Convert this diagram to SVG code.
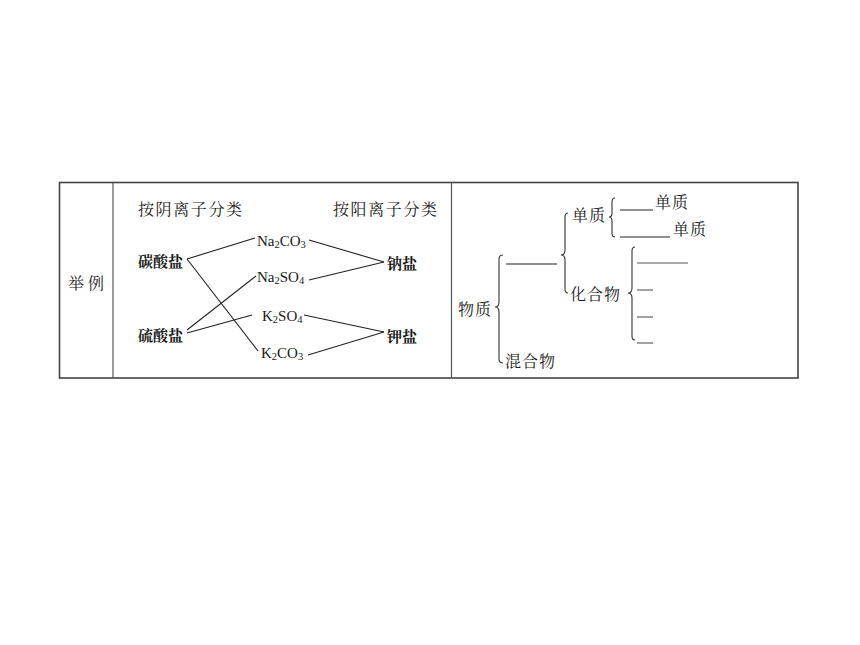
<svg xmlns="http://www.w3.org/2000/svg" width="860" height="645" viewBox="0 0 860 645">
<style>
.cn{font-family:"Noto Serif CJK SC","Noto Sans CJK SC",sans-serif;font-size:15px;fill:#1a1a1a;dominant-baseline:central}
.b{font-weight:bold}
.f{font-family:"Liberation Serif",serif;font-size:15px;fill:#1a1a1a;dominant-baseline:central}
.ln{stroke:#222;stroke-width:1.1;fill:none}
.br{stroke:#333;stroke-width:1.1;fill:none}
.gl{stroke:#555;stroke-width:1.1;fill:none}
</style>
<rect width="860" height="645" fill="#fff"/>
<g id="table">
<rect x="59.5" y="182.5" width="738.5" height="195.5" fill="none" stroke="#444" stroke-width="1.6"/>
<line x1="113" y1="182.5" x2="113" y2="378" stroke="#555" stroke-width="1.2"/>
<line x1="451.5" y1="182.5" x2="451.5" y2="378" stroke="#555" stroke-width="1.2"/>
</g>
<g id="label-juli"><text class="cn" x="68" y="282" style="font-size:16px;letter-spacing:4px">举例</text></g>
<g id="head-anion"><text class="cn" x="138" y="208" style="font-size:16px;letter-spacing:1.6px">按阴离子分类</text></g>
<g id="head-cation"><text class="cn" x="333" y="208" style="font-size:16px;letter-spacing:1.6px">按阳离子分类</text></g>
<g id="n-tansuanyan"><text class="cn b" x="138" y="260">碳酸盐</text></g>
<g id="n-liusuanyan"><text class="cn b" x="138" y="334">硫酸盐</text></g>
<g id="n-na2co3"><text class="f" x="257" y="241">Na<tspan font-size="10.5" dy="3">2</tspan><tspan dy="-3">CO</tspan><tspan font-size="10.5" dy="3">3</tspan></text></g>
<g id="n-na2so4"><text class="f" x="257" y="277">Na<tspan font-size="10.5" dy="3">2</tspan><tspan dy="-3">SO</tspan><tspan font-size="10.5" dy="3">4</tspan></text></g>
<g id="n-k2so4"><text class="f" x="262" y="316">K<tspan font-size="10.5" dy="3">2</tspan><tspan dy="-3">SO</tspan><tspan font-size="10.5" dy="3">4</tspan></text></g>
<g id="n-k2co3"><text class="f" x="261" y="353">K<tspan font-size="10.5" dy="3">2</tspan><tspan dy="-3">CO</tspan><tspan font-size="10.5" dy="3">3</tspan></text></g>
<g id="n-nayan"><text class="cn b" x="387" y="262">钠盐</text></g>
<g id="n-jiayan"><text class="cn b" x="387" y="335">钾盐</text></g>
<g id="connectors">
<line class="ln" x1="187" y1="259" x2="255" y2="238"/>
<line class="ln" x1="187" y1="259" x2="258" y2="351"/>
<line class="ln" x1="187" y1="330" x2="256" y2="276"/>
<line class="ln" x1="187" y1="333" x2="252" y2="315"/>
<line class="ln" x1="309" y1="240" x2="384" y2="262"/>
<line class="ln" x1="309" y1="280" x2="384" y2="262"/>
<line class="ln" x1="304" y1="315" x2="384" y2="332"/>
<line class="ln" x1="308" y1="355" x2="384" y2="332"/>
</g>
<g id="n-wuzhi"><text class="cn" x="458" y="308" style="font-size:16px;letter-spacing:1px">物质</text></g>
<g id="n-hunhewu"><text class="cn" x="505" y="360" style="font-size:16px;letter-spacing:1px">混合物</text></g>
<g id="n-danzhi"><text class="cn" x="572" y="214" style="font-size:16px;letter-spacing:1px">单质</text></g>
<g id="n-huahewu"><text class="cn" x="570" y="293" style="font-size:16px;letter-spacing:1px">化合物</text></g>
<g id="n-danzhi1"><text class="cn" x="655" y="201" style="font-size:16px;letter-spacing:1px">单质</text></g>
<g id="n-danzhi2"><text class="cn" x="673" y="228" style="font-size:16px;letter-spacing:1px">单质</text></g>
<g id="braces">
<path class="br" d="M503,255 Q499,255 499,259 L499,302 Q499,307 495,307 Q499,307 499,312 L499,359 Q499,363 503,363"/>
<path class="br" d="M568,213 Q565,213 565,217 L565,250 Q565,255 561,255 Q565,255 565,260 L565,289 Q565,293 568,293"/>
<path class="br" d="M615,198 Q612,198 612,202 L612,213 Q612,217 609,217 Q612,217 612,221 L612,233 Q612,237 615,237"/>
<path class="br" d="M635,247 Q632,247 632,251 L632,288 Q632,293 628,293 Q632,293 632,298 L632,336 Q632,340 635,340"/>
</g>
<g id="blanks">
<line class="ln" x1="506" y1="264" x2="557" y2="264"/>
<line class="ln" x1="620" y1="210" x2="653" y2="210"/>
<line class="ln" x1="620" y1="237" x2="670" y2="237"/>
<line class="gl" x1="637" y1="263" x2="688" y2="263"/>
<line class="gl" x1="637" y1="290" x2="653" y2="290"/>
<line class="gl" x1="637" y1="317" x2="653" y2="317"/>
<line class="gl" x1="637" y1="343" x2="653" y2="343"/>
</g>
</svg>
